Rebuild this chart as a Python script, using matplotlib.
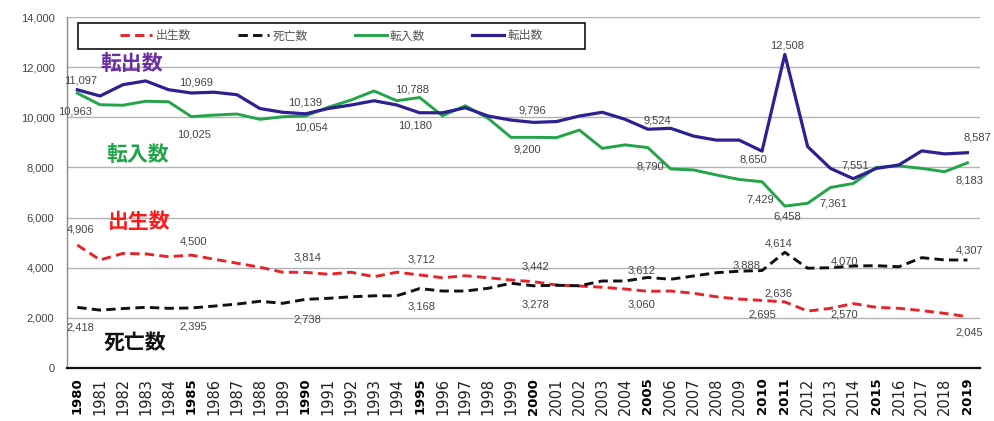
import matplotlib
matplotlib.use("Agg")
import matplotlib.pyplot as plt
from matplotlib.patches import Rectangle
from matplotlib.ticker import FuncFormatter

plt.rcParams['font.family'] = ['Liberation Sans', 'Noto Sans CJK JP', 'DejaVu Sans']

years = list(range(1980, 2020))

births = [4906, 4310, 4570, 4550, 4440, 4500, 4340, 4180, 4020, 3820,
          3814, 3740, 3820, 3640, 3820, 3712, 3600, 3680, 3600, 3510,
          3442, 3310, 3270, 3220, 3150, 3060, 3070, 2980, 2840, 2750,
          2695, 2636, 2270, 2380, 2570, 2420, 2380, 2290, 2180, 2045]

deaths = [2418, 2310, 2370, 2420, 2380, 2395, 2470, 2550, 2660, 2580,
          2738, 2780, 2840, 2880, 2880, 3168, 3070, 3070, 3180, 3380,
          3278, 3300, 3280, 3470, 3470, 3612, 3540, 3670, 3800, 3860,
          3888, 4614, 3980, 4000, 4070, 4080, 4040, 4400, 4310, 4307]

moved_in = [10963, 10500, 10480, 10640, 10620, 10025, 10090, 10130, 9920, 10020,
            10054, 10400, 10690, 11050, 10660, 10788, 10060, 10460, 9960, 9200,
            9200, 9190, 9490, 8760, 8900, 8790, 7940, 7900, 7700, 7520,
            7429, 6458, 6570, 7200, 7361, 8000, 8060, 7960, 7830, 8183]

moved_out = [11097, 10850, 11300, 11450, 11100, 10969, 11000, 10900, 10350, 10200,
             10139, 10350, 10490, 10660, 10490, 10180, 10180, 10380, 10050, 9890,
             9796, 9830, 10050, 10200, 9920, 9524, 9560, 9250, 9090, 9090,
             8650, 12508, 8830, 7960, 7551, 7960, 8100, 8660, 8540, 8587]

series_names = ['出生数', '死亡数', '転入数', '転出数']
bold_years = [1980, 1985, 1990, 1995, 2000, 2005, 2010, 2011, 2015, 2019]

# which points get a value label: (series, year, dx px, dy px)
value_labels = [
    ('out', 1980, 3, 9), ('in', 1980, -2, -18),
    ('out', 1985, 5, 10), ('in', 1985, 3, -18),
    ('out', 1990, 0, 11), ('in', 1990, 5, -12),
    ('in', 1995, -8, 8), ('out', 1995, -5, -13),
    ('out', 2000, -1, 12), ('in', 2000, -6, -12),
    ('out', 2005, 9, 9), ('in', 2005, 2, -19),
    ('out', 2010, -9, -8), ('in', 2010, -2, -18),
    ('out', 2011, 2, 9), ('in', 2011, 2, -10),
    ('out', 2014, 2, 13), ('in', 2014, -20, -20),
    ('out', 2019, 10, 15), ('in', 2019, 2, -18),
    ('birth', 1980, 3, 15), ('death', 1980, 3, -20),
    ('birth', 1985, 2, 14), ('death', 1985, 2, -19),
    ('birth', 1990, 2, 15), ('death', 1990, 2, -20),
    ('birth', 1995, 2, 15), ('death', 1995, 2, -18),
    ('birth', 2000, 2, 15), ('death', 2000, 2, -19),
    ('death', 2005, -6, 7), ('birth', 2005, -6, -13),
    ('death', 2010, -15, 5), ('birth', 2010, 0, -14),
    ('death', 2011, -6, 9), ('birth', 2011, -6, 8),
    ('death', 2014, -9, 4), ('birth', 2014, -9, -11),
    ('death', 2019, 2, 10), ('birth', 2019, 2, -16),
]

c_birth = '#e3262b'
c_death = '#111111'
c_in = '#23a448'
c_out = '#2b2190'

fig = plt.figure(figsize=(9.94, 4.21), dpi=100)
ax = fig.add_axes([0.0674, 0.1259, 0.9185, 0.8337])

ax.plot(years, births, color=c_birth, lw=2.1, dashes=(3.2, 1.8), label=series_names[0], zorder=3)
ax.plot(years, deaths, color=c_death, lw=2.1, dashes=(3.2, 1.8), label=series_names[1], zorder=3)
ax.plot(years, moved_in, color=c_in, lw=2.1, label=series_names[2], zorder=3)
ax.plot(years, moved_out, color=c_out, lw=2.3, label=series_names[3], zorder=4)

ax.set_xlim(1979.55, 2019.55)
ax.set_ylim(0, 14000)
ax.set_yticks(range(0, 14001, 2000))
ax.yaxis.set_major_formatter(FuncFormatter(lambda v, p: f'{int(v):,}'))
ax.grid(axis='y', color='#b4b4b4', lw=1.0)
ax.set_axisbelow(True)
for s in ['top', 'right']:
    ax.spines[s].set_visible(False)
ax.spines['left'].set_color('#8a8a8a')
ax.spines['left'].set_linewidth(1.0)
ax.spines['bottom'].set_color('#111111')
ax.spines['bottom'].set_linewidth(1.6)
ax.tick_params(axis='y', length=0, pad=9, labelsize=8, labelcolor='#444444')
ax.tick_params(axis='x', length=0, pad=7)

ax.set_xticks(years)
ax.set_xticklabels([str(y) for y in years], rotation=90)
for lab, y in zip(ax.get_xticklabels(), years):
    if y in bold_years:
        lab.set_fontfamily('DejaVu Sans')
        lab.set_fontweight('heavy')
        lab.set_fontsize(9.5)
    else:
        lab.set_fontfamily('Liberation Sans Narrow')
        lab.set_fontsize(10.5)
        lab.set_color('#222222')

lookup = {'birth': births, 'death': deaths, 'in': moved_in, 'out': moved_out}
for key, yr, dx, dy in value_labels:
    v = lookup[key][years.index(yr)]
    ax.annotate(f'{v:,}', xy=(yr, v), xytext=(dx, dy), textcoords='offset pixels',
                ha='center', va='center', fontsize=8, color='#444444', zorder=5)

# series names written beside the lines
big = dict(fontsize=15, fontweight='bold', family=['Noto Sans CJK JP', 'DejaVu Sans'],
           transform=ax.transAxes, ha='center', va='center')
ax.text(0.071, 0.868, '転出数', color='#6a2ea0', **big)
ax.text(0.077, 0.607, '転入数', color=c_in, **big)
ax.text(0.079, 0.416, '出生数', color='#ff1a1a', **big)
ax.text(0.074, 0.074, '死亡数', color='#111111', **big)

# legend: plain black box with the entries centred inside
box = Rectangle((0.012, 0.909), 0.555, 0.074, transform=ax.transAxes,
                facecolor='white', edgecolor='#111111', lw=1.2, zorder=6)
ax.add_patch(box)
leg = ax.legend(loc='center', bbox_to_anchor=(0.2895, 0.946), ncol=4, frameon=False,
                handlelength=2.7, handletextpad=0.25, columnspacing=4.0,
                borderaxespad=0, borderpad=0,
                prop={'family': ['Noto Sans CJK JP', 'DejaVu Sans'], 'size': 8.5})
leg.set_zorder(7)
for t in leg.get_texts():
    t.set_color('#555555')

fig.savefig('out.png', dpi=100)
